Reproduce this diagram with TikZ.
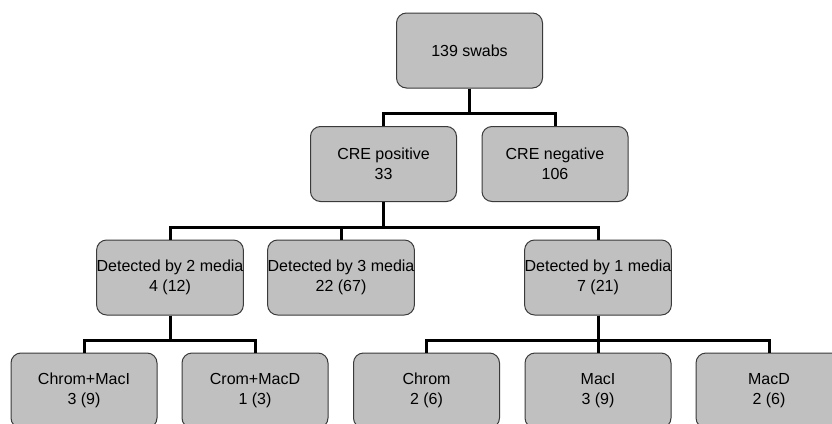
\documentclass[tikz,border=0pt]{standalone}
\usepackage{fontspec}
\setmainfont{Liberation Sans}
\definecolor{boxfill}{HTML}{C0C0C0}
\definecolor{boxline}{HTML}{3A3A3A}
\tikzset{
  box/.style={draw=boxline, fill=boxfill, line width=1pt, rounded corners=10pt,
    minimum width=146pt, minimum height=75pt, inner sep=0pt, align=center,
    font=\fontsize{16}{19.5}\selectfont},
  conn/.style={draw=black, line width=3pt}
}
\begin{document}
\begin{tikzpicture}[x=1pt,y=-1pt]
\useasboundingbox (0,0) rectangle (832,423);
\clip (0,0) rectangle (832,423);
\fill[white] (0,0) rectangle (832,423);
\node[box] (top) at (469.5,50.5) {139 swabs};
\node[box] (cpos) at (383.5,164) {CRE positive\\33};
\node[box] (cneg) at (555,164) {CRE negative\\106};
\node[box] (d2) at (170,277.5) {Detected by 2 media\\4 (12)};
\node[box] (d3) at (341,277.5) {Detected by 3 media\\22 (67)};
\node[box] (d1) at (598,277.5) {Detected by 1 media\\7 (21)};
\node[box] (b1) at (84,390.5) {Chrom+MacI\\3 (9)};
\node[box] (b2) at (255,390.5) {Crom+MacD\\1 (3)};
\node[box] (b3) at (426.5,390.5) {Chrom\\2 (6)};
\node[box] (b4) at (598,390.5) {MacI\\3 (9)};
\node[box] (b5) at (769,390.5) {MacD\\2 (6)};
\foreach \p/\c in {top/cpos, top/cneg, cpos/d2, cpos/d3, cpos/d1, d2/b1, d2/b2, d1/b3, d1/b4, d1/b5}
  \draw[conn] (\p.south) -- ++(0,25) -| (\c.north);
\end{tikzpicture}
\end{document}
